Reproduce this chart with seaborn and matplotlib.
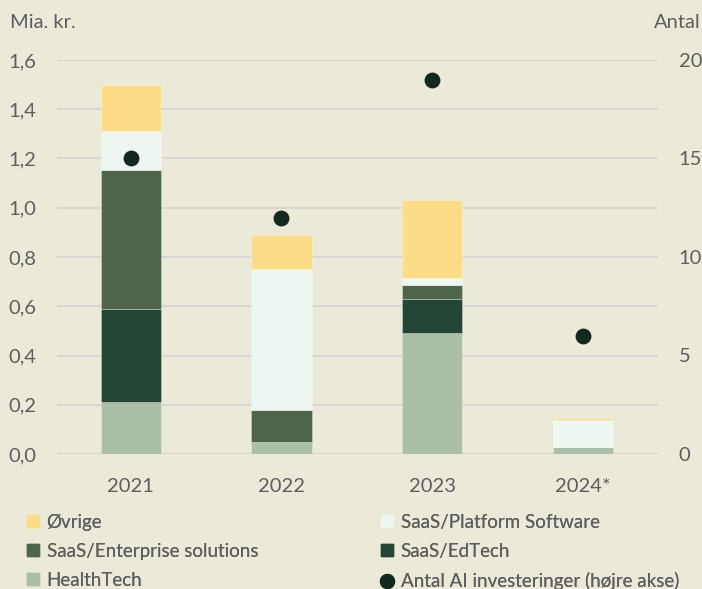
import matplotlib
matplotlib.use("Agg")
import matplotlib.pyplot as plt
from matplotlib.lines import Line2D
import seaborn as sns
import numpy as np

years = ["2021", "2022", "2023", "2024*"]
# values in Mia. kr., stacked bottom -> top
healthtech = [0.21, 0.05, 0.49, 0.03]
edtech = [0.38, 0.0, 0.14, 0.0]
enterprise = [0.565, 0.13, 0.055, 0.0]
platform = [0.155, 0.57, 0.03, 0.11]
oevrige = [0.19, 0.14, 0.315, 0.005]
antal_ai = [15, 12, 19, 6]

bg = "#EBE9D7"
txt = "#5E5E5E"
c_oev, c_plat, c_ent, c_ed, c_ht, c_dot = "#FDDC87", "#EEF6F2", "#4E654B", "#234535", "#ABBFA8", "#13281E"
series = [
    ("HealthTech", healthtech, c_ht),
    ("SaaS/EdTech", edtech, c_ed),
    ("SaaS/Enterprise solutions", enterprise, c_ent),
    ("SaaS/Platform Software", platform, c_plat),
    ("Øvrige", oevrige, c_oev),
]

sns.set_style("white")
plt.rcParams["font.family"] = ["Lato", "DejaVu Sans"]

fig = plt.figure(figsize=(7.02, 5.89), dpi=100, facecolor=bg)
ax = fig.add_axes([57 / 702, 1 - 454 / 589, 601 / 702, 394 / 589])
ax.set_facecolor(bg)

bottom = np.zeros(len(years))
for name, vals, col in series:
    sns.barplot(x=years, y=vals, bottom=bottom, color=col, width=0.4, saturation=1,
                linewidth=0.6, edgecolor=(1, 1, 1, 0.35), ax=ax)
    bottom = bottom + np.array(vals)

ax.set_ylim(0, 1.6)
ax.set_xlim(-0.49, 3.5)
ax.set_yticks(np.arange(0, 1.61, 0.2))
ax.set_yticklabels([f"{v:.1f}".replace(".", ",") for v in np.arange(0, 1.61, 0.2)])
ax.yaxis.grid(True, color="#D9D7D3", linewidth=1.5)
ax.set_axisbelow(True)
for s in ax.spines.values():
    s.set_visible(False)
ax.tick_params(axis="y", length=0, labelsize=14.5, labelcolor=txt, pad=15)
ax.tick_params(axis="x", length=0, labelsize=14.5, labelcolor=txt, pad=17)
ax.set_xlabel("")
ax.set_ylabel("")

ax2 = ax.twinx()
sns.scatterplot(x=list(range(len(years))), y=antal_ai, ax=ax2, color=c_dot,
                s=130, linewidth=0, zorder=5)
ax2.set_ylim(0, 20)
ax2.set_yticks([0, 5, 10, 15, 20])
for s in ax2.spines.values():
    s.set_visible(False)
ax2.tick_params(axis="y", length=0, labelsize=14.5, labelcolor=txt, pad=15)
ax2.set_ylabel("")

fig.text(10 / 702, 1 - 22 / 589, "Mia. kr.", fontsize=14.5, color=txt, va="center", ha="left")
fig.text(701 / 702, 1 - 22 / 589, "Antal", fontsize=14.5, color=txt, va="center", ha="right")


def sq(col, label):
    return Line2D([], [], marker="s", linestyle="", color=col, markersize=8, label=label)


col1 = [sq(c_oev, "Øvrige"), sq(c_ent, "SaaS/Enterprise solutions"), sq(c_ht, "HealthTech")]
col2 = [sq(c_plat, "SaaS/Platform Software"), sq(c_ed, "SaaS/EdTech"),
        Line2D([], [], marker="o", linestyle="", color=c_dot, markersize=10,
               label="Antal AI investeringer (højre akse)")]
for hs, x0 in [(col1, 25), (col2, 379)]:
    leg = fig.legend(handles=hs, loc="upper left", bbox_to_anchor=(x0 / 702, 1 - 514 / 589),
                     frameon=False, fontsize=13.5, labelcolor=txt, handletextpad=0.35,
                     labelspacing=0.64, handlelength=0.8, borderpad=0, borderaxespad=0)
    fig.add_artist(leg)

fig.savefig("out.png", dpi=100, facecolor=bg)
